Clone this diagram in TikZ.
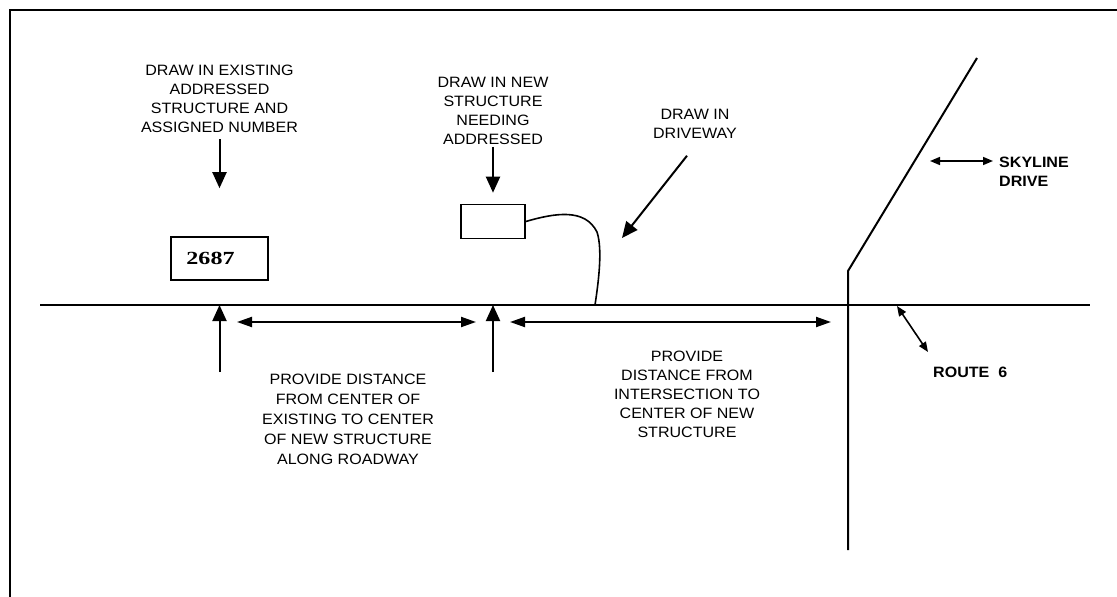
\documentclass[tikz,border=0pt]{standalone}
\usepackage{fontspec}
\setmainfont[FakeStretch=1.07]{Liberation Sans}
\newfontfamily\numfont[FakeStretch=1.3]{Liberation Serif}
\usetikzlibrary{arrows.meta,positioning,calc}
\tikzset{
  frameline/.style={draw=black,line width=1.7pt},
  road/.style={draw=black,line width=2pt},
  structure/.style={draw=black,line width=1.6pt,inner sep=0pt,
    minimum width=97pt,minimum height=43pt},
  note/.style={align=center,inner sep=0pt,anchor=north,
    font=\fontsize{15}{19}\selectfont},
  roadname/.style={align=left,inner sep=0pt,anchor=north west,
    font=\bfseries\fontsize{15}{19}\selectfont},
  pointer/.style={-{Triangle[length=16pt,width=14pt]},line width=2pt},
  span/.style={{Triangle[length=15pt,width=10pt]}-{Triangle[length=15pt,width=10pt]},
    line width=2pt},
  roadtag/.style={{Triangle[length=10pt,width=8pt]}-{Triangle[length=10pt,width=8pt]},
    line width=1.6pt},
  driveway/.style={draw=black,line width=1.6pt},
}

\begin{document}
\begin{tikzpicture}[x=1pt,y=-1pt]
  \useasboundingbox (0,0) rectangle (1117,597);
  \draw[frameline] (10,597) -- (10,10) -- (1117,10);

  % roads
  \coordinate (routeW) at (40,305);
  \coordinate (routeE) at (1090,305);
  \coordinate (skyTop) at (977,58);
  \coordinate (skyBend) at (848,271);
  \coordinate (skyEnd) at (848,550);
  \draw[road] (routeW) -- (routeE);
  \draw[road] (skyTop) -- (skyBend) -- (skyEnd);

  % structures
  \node[structure] (existing) at (219.5,258.5)
    {\numfont\bfseries\fontsize{18.5}{20}\selectfont 2687\hspace*{18pt}};
  \node[structure,minimum width=64pt,minimum height=34pt] (newhouse) at (493,221.5) {};
  \coordinate (drivefoot) at (595,305);
  \draw[driveway] (newhouse.east) .. controls (555,213) and (585,208) .. (597,232)
    .. controls (603,250) and (598,285) .. (drivefoot);

  % labels
  \node[note] (lblexisting) at (219.5,65)
    {DRAW IN EXISTING\\ADDRESSED\\STRUCTURE AND\\ASSIGNED NUMBER};
  \node[note] (lblnew) at (493,77)
    {DRAW IN NEW\\STRUCTURE\\NEEDING\\ADDRESSED};
  \node[note] (lbldrive) at (695,109) {DRAW IN\\DRIVEWAY};
  \node[roadname] (lblsky) at (999,157) {SKYLINE\\DRIVE};
  \node[roadname] (lblroute) at (933,367) {ROUTE\ \ 6};
  \node[note,font=\fontsize{15}{20}\selectfont] (lblspan) at (348,374)
    {PROVIDE DISTANCE\\FROM CENTER OF\\EXISTING TO CENTER\\OF NEW STRUCTURE\\ALONG ROADWAY};
  \node[note] (lblinter) at (687,351)
    {PROVIDE\\DISTANCE FROM\\INTERSECTION TO\\CENTER OF NEW\\STRUCTURE};

  % pointers
  \draw[pointer] ([yshift=-6pt]lblexisting.south) -- ([yshift=48pt]existing.north);
  \draw[pointer] ([yshift=-2pt]lblnew.south) -- ([yshift=11pt]newhouse.north);
  \coordinate (drivetip) at (622,238);
  \draw[pointer] ([xshift=-8pt,yshift=-17pt]lbldrive.south) -- (drivetip);

  % distances along the road
  \coordinate (exfoot) at (219.5,372);
  \coordinate (newfoot) at (493,372);
  \draw[pointer] (exfoot) -- (exfoot |- routeW);
  \draw[pointer] (newfoot) -- (newfoot |- routeW);
  \coordinate (spanA) at (237,322);
  \coordinate (spanB) at (476,322);
  \coordinate (spanC) at (510,322);
  \coordinate (spanD) at (831,322);
  \draw[span] (spanA) -- (spanB);
  \draw[span] (spanC) -- (spanD);

  % road names
  \draw[roadtag] ([xshift=-69pt,yshift=-4pt]lblsky.north west)
    -- ([xshift=-6pt,yshift=-4pt]lblsky.north west);
  \coordinate (routetag) at (897,306);
  \draw[roadtag] (routetag) -- ([xshift=-5pt,yshift=15pt]lblroute.north west);
\end{tikzpicture}
\end{document}
